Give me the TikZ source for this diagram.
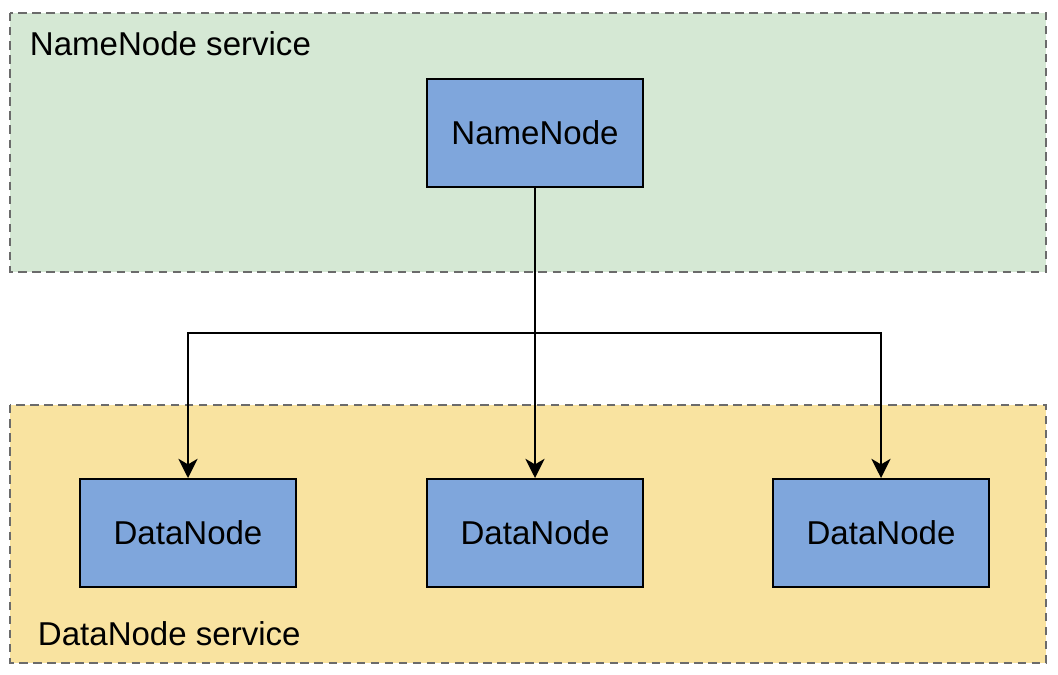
\documentclass[tikz,border=0pt]{standalone}
\usepackage{fontspec}
\setmainfont{Liberation Sans}
\usetikzlibrary{arrows.meta}
\definecolor{groupgreen}{HTML}{D5E8D4}
\definecolor{groupyellow}{HTML}{F9E3A0}
\definecolor{nodeblue}{HTML}{7FA6DC}
\definecolor{dashgray}{HTML}{6B6B6B}
\tikzset{
    service/.style={draw=dashgray,dashed,dash pattern=on 6pt off 4pt,line width=1.1pt},
    hdfsnode/.style={draw=black,fill=nodeblue,line width=1.4pt,minimum width=5.4cm,minimum height=2.7cm,font=\fontsize{23.5}{27}\selectfont},
    label/.style={anchor=west,font=\fontsize{23.5}{27}\selectfont},
    >={Stealth[length=0.48cm,width=0.48cm,inset=0.14cm]}
}
\begin{document}
\begin{tikzpicture}[x=0.025cm,y=-0.025cm]
    \useasboundingbox[fill=white] (0,0) rectangle (1058,675);
    %service groups
    \filldraw [service,fill=groupgreen] (10,13) rectangle (1046,272);
    \filldraw [service,fill=groupyellow] (10,405) rectangle (1046,663);
    \node [label] (nnservice) at (25,44) {NameNode service};
    \node [label] (dnservice) at (33,634) {DataNode service};
    %nodes
    \node [hdfsnode] (namenode) at (535,133) {NameNode};
    \node [hdfsnode] (dn1) at (188,533) {DataNode};
    \node [hdfsnode] (dn2) at (535,533) {DataNode};
    \node [hdfsnode] (dn3) at (881,533) {DataNode};
    %draw lines
    \coordinate (split) at (535,333);
    \draw [->,line width=1.4pt] (namenode.south) -- (dn2.north);
    \draw [->,line width=1.4pt] (namenode.south) -- (split) -| (dn1.north);
    \draw [->,line width=1.4pt] (namenode.south) -- (split) -| (dn3.north);
\end{tikzpicture}
\end{document}
